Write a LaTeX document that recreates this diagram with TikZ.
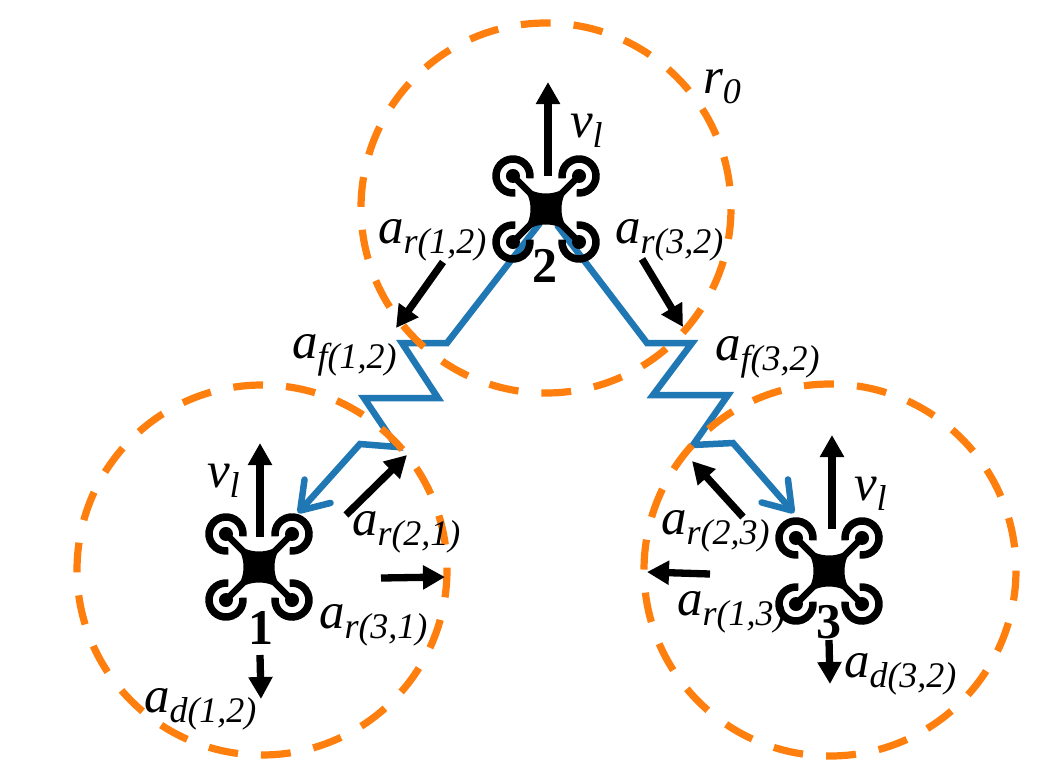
\documentclass[tikz,border=0pt]{standalone}
\usepackage{fontspec}
\setmainfont{Liberation Serif}
\usetikzlibrary{arrows.meta}
\definecolor{rangeorange}{HTML}{FF7F0E}
\definecolor{linkblue}{HTML}{1F77B4}
\newcommand{\mainsub}[2]{{\fontsize{51}{51}\selectfont\itshape #1}\raisebox{-10pt}{\fontsize{36}{36}\selectfont\itshape #2}}
\tikzset{
  rangeleft/.style={draw=rangeorange,line width=7.2pt,dash pattern=on 29.8pt off 23.04pt,dash phase=27.4pt},
  rangetop/.style={draw=rangeorange,line width=7.2pt,dash pattern=on 29.8pt off 23.04pt,dash phase=31pt},
  rangeright/.style={draw=rangeorange,line width=7.2pt,dash pattern=on 30pt off 23.12pt,dash phase=30.4pt},
  linkline/.style={draw=linkblue,line width=6.5pt,line join=miter},
  linktip/.style={-{Straight Barb[length=26pt,width=35pt,round]}},
  force/.style={draw=black,line width=7.3pt,-{Triangle[length=22pt,width=23pt]}},
  lab/.style={anchor=base west,inner sep=0pt,outer sep=0pt,text=black},
  num/.style={anchor=base,inner sep=0pt,outer sep=0pt,font=\fontsize{50}{50}\selectfont\bfseries,text=black},
  drone/.pic={
    \begin{scope}[x=1pt,y=1pt]
      \fill[black] (-26,26) .. controls (-12,11) and (-12,-11) .. (-26,-26)
        .. controls (-11,-12) and (11,-12) .. (26,-26)
        .. controls (12,-11) and (12,11) .. (26,26)
        .. controls (11,12) and (-11,12) .. (-26,26) -- cycle;
      \foreach \d in {45,135,225,315}{
        \draw[black,line width=6.5pt] (0,0) -- (\d:46.7pt);
        \fill[black] (\d:46.7pt) circle[radius=7pt];
        \begin{scope}[shift={(\d:46.7pt)}]
          \draw[black,line width=7.5pt] (\d-143:17pt) arc[start angle=\d-143,end angle=\d+143,radius=17pt];
        \end{scope}
      }
    \end{scope}
  }
}
\begin{document}
\begin{tikzpicture}[x=1pt,y=-1pt]
\useasboundingbox (0,0) rectangle (1052,772);
% blue links
\coordinate (s12) at (540,223);
\coordinate (b1) at (447,343);
\coordinate (b2) at (402,343);
\coordinate (b3) at (438,398);
\coordinate (b4) at (364,398);
\coordinate (b5) at (397,447);
\coordinate (b6) at (360,444);
\coordinate (t1) at (298,513);
\coordinate (s32) at (557,225);
\coordinate (c1) at (647,343);
\coordinate (c2) at (692,343);
\coordinate (c3) at (653,395);
\coordinate (c4) at (728,395);
\coordinate (c5) at (693,445);
\coordinate (c6) at (733,443);
\coordinate (t3) at (794,513);
\draw[linkline,linktip] (s12) -- (b1) -- (b2) -- (b3) -- (b4) -- (b5) -- (b6) -- (t1);
\draw[linkline,linktip] (s32) -- (c1) -- (c2) -- (c3) -- (c4) -- (c5) -- (c6) -- (t3);
% range circles
\coordinate (o1) at (262,570);
\coordinate (o2) at (546,208);
\coordinate (o3) at (830,570);
\draw[rangetop] (o2) circle[radius=185pt];
\draw[rangeleft] (o1) circle[radius=185pt];
\draw[rangeright] (o3) circle[radius=186pt];
% drones
\coordinate (d1) at (259,567);
\coordinate (d2) at (546,209);
\coordinate (d3) at (829,571);
\pic at (d1) {drone};
\pic at (d2) {drone};
\pic at (d3) {drone};
% force arrows
\coordinate (v2a) at (548,176); \coordinate (v2b) at (548,82);
\coordinate (r12a) at (443,262); \coordinate (r12b) at (396,328);
\coordinate (r32a) at (642,259); \coordinate (r32b) at (683,327);
\coordinate (v1a) at (260,537); \coordinate (v1b) at (260,443);
\coordinate (r21a) at (346,515); \coordinate (r21b) at (407,455);
\coordinate (r31a) at (381,578); \coordinate (r31b) at (445,577);
\coordinate (d12a) at (260,655); \coordinate (d12b) at (261,699);
\coordinate (v3a) at (832,529); \coordinate (v3b) at (832,435);
\coordinate (r23a) at (743,517); \coordinate (r23b) at (692,461);
\coordinate (r13a) at (710,574); \coordinate (r13b) at (647,572);
\coordinate (d32a) at (829,640); \coordinate (d32b) at (830,684);
\foreach \p in {v2,r12,r32,v1,r21,r31,d12,v3,r23,r13,d32}{
  \draw[force] (\p a) -- (\p b);
}
% labels
\node[lab] (lr0) at (703,93) {\mainsub{r}{0}};
\node[lab] (lv2) at (570,137) {\mainsub{v}{l}};
\node[lab] (lv1) at (207,487) {\mainsub{v}{l}};
\node[lab] (lv3) at (854,500) {\mainsub{v}{l}};
\node[lab] (lr12) at (378,243) {\mainsub{a}{r(1,2)}};
\node[lab] (lr32) at (615,243) {\mainsub{a}{r(3,2)}};
\node[lab] (lf12) at (292,358) {\mainsub{a}{f(1,2)}};
\node[lab] (lf32) at (715,360) {\mainsub{a}{f(3,2)}};
\node[lab] (lr21) at (352,535) {\mainsub{a}{r(2,1)}};
\node[lab] (lr31) at (319,628) {\mainsub{a}{r(3,1)}};
\node[lab] (ld12) at (144,712) {\mainsub{a}{d(1,2)}};
\node[lab] (lr23) at (661,534) {\mainsub{a}{r(2,3)}};
\node[lab] (lr13) at (677,615) {\mainsub{a}{r(1,3)}};
\node[lab] (ld32) at (844,677) {\mainsub{a}{d(3,2)}};
\node[num] (n1) at (261,644) {1};
\node[num] (n2) at (545,282) {2};
\node[num] (n3) at (829,638) {3};
\end{tikzpicture}
\end{document}
